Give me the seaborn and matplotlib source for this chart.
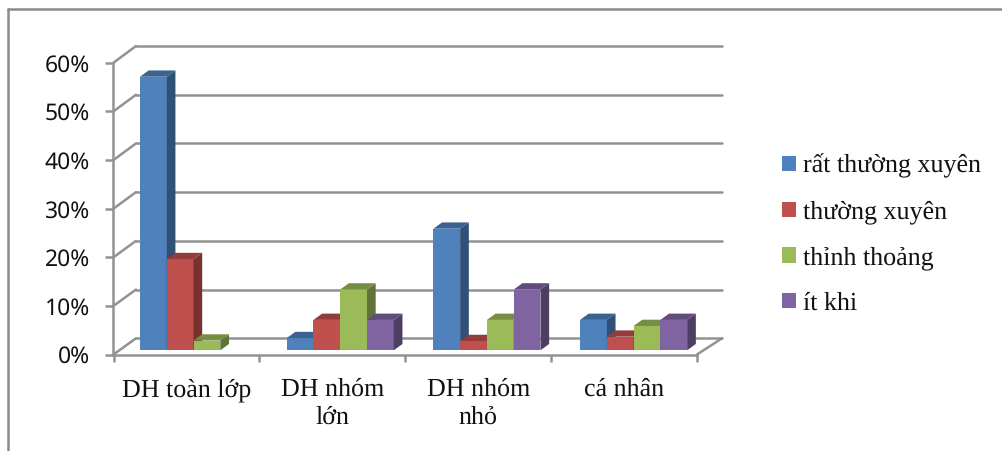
import numpy as np
import pandas as pd
import seaborn as sns
import matplotlib
matplotlib.use("Agg")
import matplotlib.pyplot as plt
from matplotlib.colors import to_rgb
from matplotlib.lines import Line2D
from matplotlib.patches import ConnectionPatch, Polygon

categories = ["DH toàn lớp", "DH nhóm\nlớn", "DH nhóm\nnhỏ", "cá nhân"]
series_names = ["rất thường xuyên", "thường xuyên", "thỉnh thoảng", "ít khi"]
rat_thuong_xuyen = [56.25, 2.5, 25.0, 6.25]
thuong_xuyen = [18.75, 6.25, 1.9, 2.8]
thinh_thoang = [2.0, 12.5, 6.25, 5.0]
it_khi = [np.nan, 6.25, 12.5, 6.25]
y_ticks = [0, 10, 20, 30, 40, 50, 60]
colors = ["#4F81BD", "#C0504D", "#9BBB59", "#8064A2"]

W, H = 1003, 451
SERIF = "Liberation Serif"
SANS = "Noto Sans"
GRID = "#929292"

sns.set_theme(style="white")
plt.rcParams["font.family"] = [SERIF, "DejaVu Sans"]
plt.rcParams["text.hinting"] = "no_hinting"
plt.rcParams["text.hinting_factor"] = 1

fig = plt.figure(figsize=(W / 100, H / 100), dpi=100, facecolor="white")


def box(left, right, bottom, top):
    """Axes rectangle from pixel edges, measured from the top-left corner."""
    return [left / W, 1 - bottom / H, (right - left) / W, (bottom - top) / H]


# Rear wall carrying the horizontal gridlines.
back = fig.add_axes(box(136, 722, 338.3, 46), zorder=1)
back.set_xlim(-0.5, 3.5)
back.set_ylim(0, 60)
back.set_yticks(y_ticks)
back.set_xticks([])
back.tick_params(left=False, labelleft=False)
back.grid(axis="y", color=GRID, lw=1.8)
for gridline in back.get_ygridlines():
    gridline.set_clip_on(False)
sns.despine(ax=back, left=True, bottom=True)
back.patch.set_alpha(0)

# Front plane carrying the value axis and category axis.
front = fig.add_axes(box(113.5, 697, 354.5, 62.7), zorder=2)
front.set_xlim(-0.5, 3.5)
front.set_ylim(0, 60)
front.patch.set_alpha(0)
sns.despine(ax=front)
for side in ("left", "bottom"):
    front.spines[side].set_color(GRID)
    front.spines[side].set_linewidth(1.8)
front.set_yticks(y_ticks, [f"{v}%" for v in y_ticks], fontfamily=SANS, fontsize=16.5, color="#111111")
front.set_xticks(np.arange(-0.5, 4, 1), [""] * 5)
front.set_xticks(range(4), categories, minor=True, fontsize=18.9, color="#111111", linespacing=1.22)
front.tick_params(axis="y", which="major", left=True, length=6, width=1.8, color=GRID, pad=11)
front.tick_params(axis="x", which="major", bottom=True, length=5, width=1.8, color=GRID)
front.tick_params(axis="x", which="minor", bottom=False, length=0, pad=17)

# Diagonals joining each level of the front plane to the rear wall.
diagonals = [((-0.5, v), (-0.5, v)) for v in y_ticks] + [((3.5, 0), (3.5, 0))]
for start, end in diagonals:
    fig.add_artist(ConnectionPatch(start, end, coordsA=front.transData, coordsB=back.transData,
                                   color=GRID, lw=1.8, zorder=1.5))

# Bars stand a little behind the front plane.
ax = fig.add_axes(box(120.15, 706.95, 350.3, 58.5), zorder=3)
ax.patch.set_alpha(0)
table = pd.DataFrame({
    "category": np.tile(categories, 4),
    "series": np.repeat(series_names, 4),
    "value": np.concatenate([rat_thuong_xuyen, thuong_xuyen, thinh_thoang, it_khi]),
})
sns.barplot(data=table, x="category", y="value", hue="series", order=categories,
            hue_order=series_names, palette=colors, saturation=1, width=0.73, gap=0,
            errorbar=None, linewidth=0, ax=ax)
ax.set_xlim(-0.5, 3.5)
ax.set_ylim(0, 60)
ax.set_axis_off()

# Side and top faces extruded from every bar.
dx = 8.7 / (586.8 / 4)
dy = 6.3 / (291.8 / 60)


def shade(color, factor):
    return tuple(c * factor for c in to_rgb(color))


for order, (container, color) in enumerate(zip(ax.containers, colors)):
    for bar in container:
        height = bar.get_height()
        if not np.isfinite(height):
            continue
        x0 = bar.get_x()
        x1 = x0 + bar.get_width()
        bar.set_zorder(3 + order)
        ax.add_patch(Polygon([(x1, 0), (x1 + dx, dy), (x1 + dx, height + dy), (x1, height)],
                             fc=shade(color, 0.62), ec="none", zorder=3 + order, clip_on=False))
        ax.add_patch(Polygon([(x0, height), (x0 + dx, height + dy), (x1 + dx, height + dy), (x1, height)],
                             fc=shade(color, 0.76), ec="none", zorder=3 + order, clip_on=False))

sns.move_legend(ax, "upper left", bbox_to_anchor=(782 / W, 1 - 154 / H),
                bbox_transform=fig.transFigure, title=None, frameon=False,
                fontsize=18.9, handlelength=0.53, handleheight=0.53, handletextpad=0.28,
                labelspacing=0.84, borderpad=0, borderaxespad=0)
for text in ax.get_legend().get_texts():
    text.set_color("#111111")

# Outer frame of the chart area.
frame = "#8A8A8A"
fig.add_artist(Line2D([8.5 / W, 8.5 / W], [0, 1 - 8.5 / H], color=frame, lw=1.8))
fig.add_artist(Line2D([8.5 / W, 1], [1 - 8.5 / H, 1 - 8.5 / H], color=frame, lw=1.8))

fig.savefig("out.png", dpi=100, facecolor="white")
